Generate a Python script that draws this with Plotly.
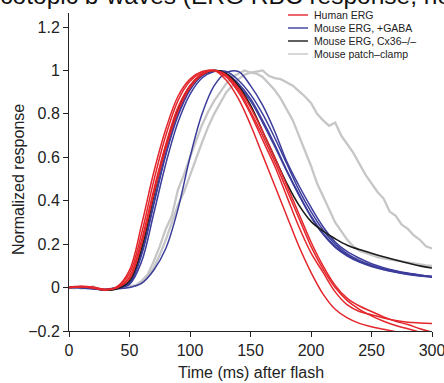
import plotly.graph_objects as go

# ---------------- data ----------------
T10 = [0, 10, 20, 30, 40, 50, 60, 70, 80, 90, 100, 110, 120, 130, 140, 150,
       160, 170, 180, 190, 200, 210, 220, 230, 240, 250, 260, 270, 280, 290, 300]

human_erg_1 = [0, 0.005, 0, -0.01, 0.005, 0.08, 0.29, 0.53, 0.73, 0.88, 0.96, 0.995, 1.0, 0.955, 0.87, 0.75,
               0.61, 0.47, 0.33, 0.19, 0.07, -0.03, -0.1, -0.14, -0.165, -0.18, -0.192, -0.203, -0.215, -0.225, -0.235]
human_erg_2 = [0, 0.004, -0.003, -0.012, 0.003, 0.065, 0.25, 0.49, 0.7, 0.86, 0.95, 0.99, 1.0, 0.97, 0.9, 0.8,
               0.68, 0.56, 0.42, 0.28, 0.16, 0.07, -0.02, -0.08, -0.11, -0.125, -0.14, -0.152, -0.16, -0.163, -0.165]
human_erg_3 = [0, 0.006, 0.002, -0.008, 0.0, 0.05, 0.22, 0.45, 0.66, 0.83, 0.93, 0.985, 1.0, 0.98, 0.92, 0.83,
               0.72, 0.6, 0.47, 0.34, 0.21, 0.1, 0.01, -0.05, -0.085, -0.11, -0.135, -0.155, -0.17, -0.19, -0.205]
human_erg_4 = [0, 0.003, 0.0, -0.01, 0.0, 0.04, 0.2, 0.43, 0.64, 0.81, 0.92, 0.98, 1.0, 0.975, 0.91, 0.81,
               0.7, 0.58, 0.45, 0.32, 0.19, 0.085, 0.0, -0.06, -0.1, -0.13, -0.155, -0.175, -0.19, -0.205, -0.22]

gaba_1 = [0, 0.0, -0.005, -0.01, 0.0, 0.02, 0.15, 0.38, 0.61, 0.79, 0.91, 0.975, 1.0, 0.985, 0.94, 0.87,
          0.77, 0.66, 0.54, 0.43, 0.33, 0.25, 0.19, 0.15, 0.12, 0.1, 0.085, 0.072, 0.062, 0.055, 0.05]
gaba_2 = [0, 0.003, -0.004, -0.012, -0.003, 0.015, 0.12, 0.34, 0.57, 0.76, 0.89, 0.965, 0.995, 0.995, 0.955, 0.89,
          0.8, 0.69, 0.57, 0.45, 0.35, 0.265, 0.2, 0.155, 0.125, 0.103, 0.087, 0.075, 0.065, 0.057, 0.052]
gaba_3 = [0, 0.002, -0.003, -0.01, -0.005, 0.0, 0.02, 0.08, 0.18, 0.36, 0.6, 0.8, 0.93, 0.99, 0.995, 0.93,
          0.84, 0.72, 0.58, 0.47, 0.37, 0.28, 0.21, 0.165, 0.135, 0.11, 0.092, 0.078, 0.067, 0.058, 0.05]
gaba_4 = [0, -0.002, -0.006, -0.008, 0.002, 0.025, 0.16, 0.39, 0.62, 0.8, 0.92, 0.98, 1.0, 0.98, 0.93, 0.86,
          0.76, 0.65, 0.535, 0.425, 0.325, 0.245, 0.185, 0.145, 0.117, 0.097, 0.082, 0.07, 0.06, 0.053, 0.048]

cx36 = [0, 0.004, 0.0, -0.012, -0.005, 0.03, 0.18, 0.42, 0.65, 0.82, 0.93, 0.98, 1.0, 0.985, 0.93, 0.84,
        0.72, 0.6, 0.48, 0.38, 0.305, 0.26, 0.225, 0.195, 0.175, 0.158, 0.142, 0.127, 0.113, 0.1, 0.09]

T5 = [0, 5, 10, 15, 20, 25, 30, 35, 40, 45, 50, 55, 60, 65, 70, 75, 80, 85, 90, 95,
      100, 105, 110, 115, 120, 125, 130, 135, 140, 145, 150, 155, 160, 165, 170, 175, 180, 185, 190, 195,
      200, 205, 210, 215, 220, 225, 230, 235, 240, 245, 250, 255, 260, 265, 270, 275, 280, 285, 290, 295, 300]

patch_slow = [0, 0.005, -0.005, 0.0, 0.005, -0.008, -0.01, -0.005, 0.0, 0.0, 0.005, 0.01, 0.02, 0.05, 0.09, 0.15, 0.22, 0.3, 0.38, 0.44,
              0.52, 0.6, 0.67, 0.74, 0.8, 0.85, 0.9, 0.93, 0.96, 0.98, 0.99, 0.995, 1.0, 0.975, 0.965, 0.96, 0.945, 0.93, 0.905, 0.88,
              0.85, 0.8, 0.77, 0.745, 0.76, 0.7, 0.66, 0.62, 0.57, 0.52, 0.48, 0.44, 0.41, 0.35, 0.33, 0.29, 0.27, 0.24, 0.22, 0.19, 0.18]
patch_fast = [0, -0.004, 0.004, -0.002, 0.0, -0.006, -0.012, -0.006, 0.0, 0.004, 0.006, 0.01, 0.03, 0.06, 0.12, 0.19, 0.27, 0.33, 0.45, 0.52,
              0.6, 0.68, 0.75, 0.81, 0.86, 0.9, 0.94, 0.97, 0.985, 1.0, 0.99, 0.985, 0.97, 0.94, 0.91, 0.87, 0.82, 0.77, 0.7, 0.63,
              0.56, 0.48, 0.42, 0.36, 0.3, 0.26, 0.22, 0.19, 0.17, 0.16, 0.15, 0.14, 0.135, 0.13, 0.125, 0.12, 0.115, 0.11, 0.105, 0.102, 0.1]

x_ticks = [0, 50, 100, 150, 200, 250, 300]
y_ticks = [-0.2, 0, 0.2, 0.4, 0.6, 0.8, 1, 1.2]
y_tick_labels = ["\u22120.2", "0", "0.2", "0.4", "0.6", "0.8", "1", "1.2"]

legend_labels = ["Human ERG", "Mouse ERG, +GABA", "Mouse ERG, Cx36\u2013/\u2013", "Mouse patch\u2013clamp"]

# ---------------- styles ----------------
RED = "#e3262b"
BLUE = "#3c3c9c"
BLACK = "#1c1c1c"
GRAY = "#c6c6c6"
FONT = "Liberation Sans, Arial, Helvetica, sans-serif"

fig = go.Figure()

for ys in [patch_fast, patch_slow]:
    fig.add_trace(go.Scatter(x=T5, y=ys, mode="lines", line=dict(color=GRAY, width=2.3),
                             showlegend=False, hoverinfo="skip"))
for ys in [gaba_1, gaba_2, gaba_4, gaba_3]:
    fig.add_trace(go.Scatter(x=T10, y=ys, mode="lines", line=dict(color=BLUE, width=1.5, shape="spline"),
                             showlegend=False, hoverinfo="skip"))
fig.add_trace(go.Scatter(x=T10, y=cx36, mode="lines", line=dict(color=BLACK, width=1.6, shape="spline"),
                         showlegend=False, hoverinfo="skip"))
for ys in [human_erg_1, human_erg_2, human_erg_3, human_erg_4]:
    fig.add_trace(go.Scatter(x=T10, y=ys, mode="lines", line=dict(color=RED, width=1.5, shape="spline"),
                             showlegend=False, hoverinfo="skip"))

# plot area in pixels
L, R, T, B = 69, 12, 13, 52
W, H = 444, 383
PW, PH = W - L - R, H - T - B


def xp(px):
    return (px - L) / PW


def yp(py):
    return (H - B - py) / PH


shapes = []
annotations = []
legend_colors = [RED, BLUE, BLACK, GRAY]
legend_rows = [15, 28, 41, 54]
for lab, col, row in zip(legend_labels, legend_colors, legend_rows):
    shapes.append(dict(type="line", xref="paper", yref="paper", x0=xp(288), x1=xp(308), y0=yp(row), y1=yp(row),
                       line=dict(color=col, width=1.4)))
    annotations.append(dict(text=lab, xref="paper", yref="paper", x=xp(312), y=yp(row), xanchor="left",
                            yanchor="middle", showarrow=False, font=dict(family=FONT, size=10.5, color="#222")))

annotations.append(dict(text="Scotopic b-waves (ERG RBC response, normalized)", xref="paper", yref="paper",
                        x=xp(-18), y=yp(11), xanchor="left", yanchor="bottom", showarrow=False,
                        font=dict(family=FONT, size=24.5, color="#111")))

# axis titles placed as text next to the axes
annotations.append(dict(text="Time (ms) after flash", xref="paper", yref="paper", x=0.5, y=yp(372),
                        xanchor="center", yanchor="middle", showarrow=False,
                        font=dict(family=FONT, size=16, color="#222")))
annotations.append(dict(text="Normalized response", xref="paper", yref="paper", x=xp(18), y=yp(180),
                        xanchor="center", yanchor="middle", textangle=-90, showarrow=False,
                        font=dict(family=FONT, size=16, color="#222")))

axis_common = dict(showgrid=False, zeroline=False, showline=True, linecolor="#222", linewidth=1,
                   ticks="outside", ticklen=5, tickwidth=1, tickcolor="#222", automargin=False,
                   ticklabeloverflow="allow",
                   tickfont=dict(family=FONT, size=16, color="#222"))

fig.update_layout(
    width=W, height=H,
    margin=dict(l=L, r=R, t=T, b=B, autoexpand=False),
    plot_bgcolor="white", paper_bgcolor="white",
    showlegend=False,
    font=dict(family=FONT, color="#222"),
    shapes=shapes,
    annotations=annotations,
    xaxis=dict(range=[0, 300], tickvals=x_ticks, **axis_common),
    yaxis=dict(range=[-0.2, 1.2645], tickvals=y_ticks, ticktext=y_tick_labels, **axis_common),
)

fig.write_html("out.html", config={"displayModeBar": False, "staticPlot": True},
               post_script="document.body.style.margin='0';document.body.style.overflow='hidden';")
